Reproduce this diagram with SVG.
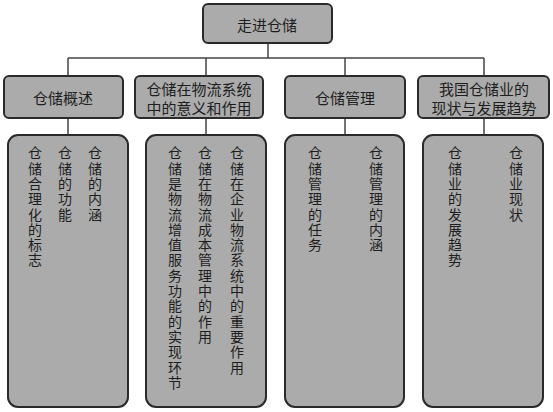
<svg xmlns="http://www.w3.org/2000/svg" width="553" height="412" viewBox="0 0 553 412">
<style>
.box{fill:#ababab;stroke:#2a2a2a;stroke-width:2}
.ln{stroke:#444;stroke-width:1.5;fill:none}
.t{font-family:"Noto Sans CJK SC","Noto Sans CJK JP",sans-serif;font-size:15px;fill:#1e1e1e;text-anchor:middle;dominant-baseline:central}
.v{font-family:"Noto Sans CJK SC","Noto Sans CJK JP",sans-serif;font-size:14px;fill:#1e1e1e;writing-mode:vertical-rl;letter-spacing:1.3px}
</style>
<rect width="553" height="412" fill="#fff"/>
<g id="connectors">
<path class="ln" d="M268 43V58M68 58H484M68 58V76M206 58V76M345 58V76M484 58V76"/>
<path class="ln" d="M68 118V135M206 118V135M345 118V135M484 118V135"/>
</g>
<g id="root"><rect class="box" x="203" y="4" width="129" height="39" rx="5"/><text class="t" x="267" y="24">走进仓储</text></g>
<g id="n1"><rect class="box" x="4" y="76" width="119" height="42" rx="5"/><text class="t" x="63" y="97">仓储概述</text></g>
<g id="n2"><rect class="box" x="135" y="76" width="128" height="42" rx="5"/><text class="t" x="199" y="88">仓储在物流系统</text><text class="t" x="199" y="107">中的意义和作用</text></g>
<g id="n3"><rect class="box" x="285" y="76" width="120" height="42" rx="5"/><text class="t" x="345" y="97">仓储管理</text></g>
<g id="n4"><rect class="box" x="418" y="76" width="131" height="42" rx="5"/><text class="t" x="484" y="88">我国仓储业的</text><text class="t" x="484" y="107">现状与发展趋势</text></g>
<g id="d1"><rect class="box" x="8" y="135" width="120" height="272" rx="10"/>
<text class="v" x="95" y="146">仓储的内涵</text>
<text class="v" x="65" y="146">仓储的功能</text>
<text class="v" x="35" y="146">仓储合理化的标志</text></g>
<g id="d2"><rect class="box" x="146" y="135" width="120" height="272" rx="10"/>
<text class="v" x="237" y="146">仓储在企业物流系统中的重要作用</text>
<text class="v" x="205" y="146">仓储在物流成本管理中的作用</text>
<text class="v" x="175" y="146">仓储是物流增值服务功能的实现环节</text></g>
<g id="d3"><rect class="box" x="285" y="135" width="119" height="272" rx="10"/>
<text class="v" x="376" y="146">仓储管理的内涵</text>
<text class="v" x="315" y="146">仓储管理的任务</text></g>
<g id="d4"><rect class="box" x="423" y="135" width="120" height="272" rx="10"/>
<text class="v" x="516" y="146">仓储业现状</text>
<text class="v" x="455" y="146">仓储业的发展趋势</text></g>
</svg>
